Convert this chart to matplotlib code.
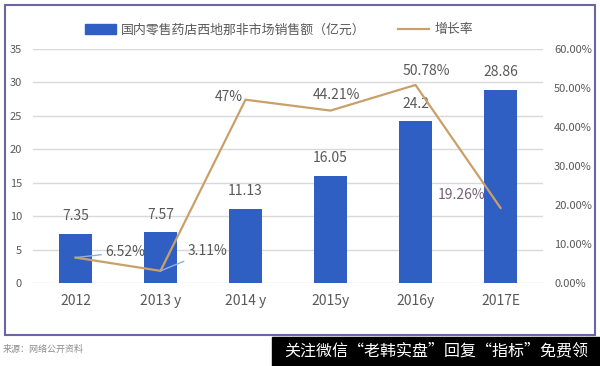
import matplotlib.pyplot as plt
from matplotlib.patches import Rectangle
from matplotlib.lines import Line2D

plt.rcParams['font.family'] = ['Noto Sans CJK SC', 'DejaVu Sans']

years = ["2012", "2013 y", "2014 y", "2015y", "2016y", "2017E"]
sales = [7.35, 7.57, 11.13, 16.05, 24.2, 28.86]
growth = [6.52, 3.11, 47, 44.21, 50.78, 19.26]
growth_labels = ["6.52%", "3.11%", "47%", "44.21%", "50.78%", "19.26%"]

bar_color = "#2f5fc2"
line_color = "#c9a06a"
text_color = "#595959"

fig = plt.figure(figsize=(6, 3.66), dpi=100)
ax = fig.add_axes([33 / 600, 1 - 283 / 366, 510 / 600, 234 / 366])
ax2 = ax.twinx()

x = list(range(len(years)))
ax.bar(x, sales, width=0.39, color=bar_color, zorder=2)
ax.set_ylim(0, 35)
ax.set_xlim(-0.5, 5.5)
ax.set_yticks(range(0, 36, 5))
ax.grid(axis="y", color="#d9d9d9", linewidth=1, zorder=0)
ax.set_axisbelow(True)
ax.tick_params(axis="y", length=0, labelsize=8, labelcolor=text_color, pad=8)
ax.tick_params(axis="x", length=0, labelsize=10, labelcolor=text_color, pad=8)
ax.set_xticks(x)
ax.set_xticklabels(years)
for s in ax.spines.values():
    s.set_visible(False)

for i, v in enumerate(sales):
    ax.text(i, v + 1.6, f"{v:g}", ha="center", va="bottom", fontsize=10, color=text_color)

ax2.plot(x, growth, color=line_color, linewidth=1.6, zorder=3)
ax2.set_ylim(0, 60)
ax2.set_yticks(range(0, 61, 10))
ax2.set_yticklabels([f"{t:.2f}%" for t in range(0, 61, 10)])
ax2.tick_params(axis="y", length=0, labelsize=8, labelcolor=text_color, pad=8)
for s in ax2.spines.values():
    s.set_visible(False)

offsets = [(36, 4), (34, 14), (-12, 2), (4, 11), (8, 10), (-28, 9)]
leaders = [True, True, False, False, False, False]
for i, (g, lab) in enumerate(zip(growth, growth_labels)):
    col = "#75607a" if i == 5 else text_color
    arrow = dict(arrowstyle="-", color="#8fb0e0", lw=1, shrinkA=1, shrinkB=0) if leaders[i] else None
    ax2.annotate(lab, (i, g), xytext=offsets[i], textcoords="offset points",
                 ha="center", va="center", fontsize=10, color=col, arrowprops=arrow)

handles = [Rectangle((0, 0), 1, 1, color=bar_color),
           Line2D([0], [0], color=line_color, linewidth=1.6)]
fig.legend(handles, ["国内零售药店西地那非市场销售额（亿元）", "增长率"],
           loc="center", bbox_to_anchor=(0.465, 1 - 30 / 366), ncol=2, frameon=False,
           fontsize=9.3, labelcolor=text_color, handlelength=2.4, columnspacing=2.5,
           handletextpad=0.4)

fig.patches.append(Rectangle((5 / 600, 1 - 335 / 366), 590 / 600, 330 / 366,
                             transform=fig.transFigure, fill=False,
                             edgecolor="#6a64a8", linewidth=1.5))
fig.text(3 / 600, 1 - 349 / 366, "来源：网络公开资料", fontsize=6.5, color="#8c8c8c",
         va="center", ha="left")
fig.patches.append(Rectangle((272 / 600, 0), 328 / 600, 29 / 366,
                             transform=fig.transFigure, color="black"))
fig.text(436 / 600, 1 - 351 / 366, "关注微信\u201c老韩实盘\u201d回复\u201c指标\u201d免费领",
         fontsize=11.5, color="white", va="center", ha="center")

fig.savefig("out.png", dpi=100)
